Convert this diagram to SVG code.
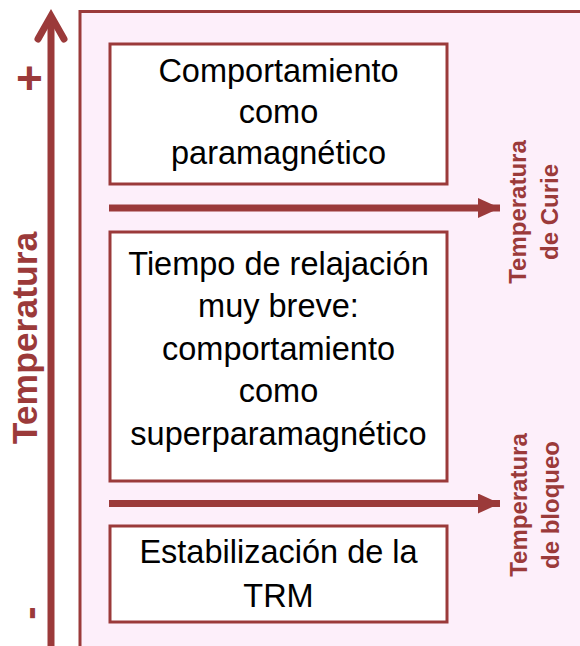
<svg xmlns="http://www.w3.org/2000/svg" width="580" height="646" viewBox="0 0 580 646">
<style>
.box{fill:#ffffff;stroke:#9b3a3a;stroke-width:3}
.bt{font-family:"Liberation Sans",Arial,sans-serif;font-size:32.5px;fill:#000;text-anchor:middle}
.lbl{font-family:"Liberation Sans",Arial,sans-serif;font-weight:bold;fill:#9b3a3a;text-anchor:middle}
.conn{stroke:#9b3a3a;stroke-width:7;fill:none}
</style>
<defs>
<marker id="ah" markerUnits="userSpaceOnUse" markerWidth="24" markerHeight="24" refX="22" refY="10" orient="auto" viewBox="0 0 24 24">
<path d="M0,0 L22,10 L0,20 Z" fill="#9b3a3a"/>
</marker>
</defs>
<rect width="580" height="646" fill="#ffffff"/>
<g id="frame">
<rect x="80" y="11.5" width="520" height="660" fill="#fdeffa" stroke="#9b3a3a" stroke-width="3"/>
</g>
<g id="axis">
<line x1="51" y1="16" x2="51" y2="650" class="conn"/>
<polyline points="38,39 51,16 64,39" class="conn" stroke-linecap="round" stroke-linejoin="miter"/>
<text x="29.5" y="94" class="lbl" font-size="46">+</text>
<text transform="translate(37,338) rotate(-90)" class="lbl" font-size="35.5">Temperatura</text>
<text transform="translate(43,613) rotate(-90)" class="lbl" font-size="40">-</text>
</g>
<g id="connectors">
<line x1="109" y1="208" x2="500" y2="208" class="conn" marker-end="url(#ah)"/>
<line x1="109" y1="503.5" x2="500" y2="503.5" class="conn" marker-end="url(#ah)"/>
</g>
<g id="box1">
<rect x="110" y="44" width="337" height="140" class="box"/>
<text class="bt"><tspan x="278.5" y="82">Comportamiento</tspan><tspan x="278.5" y="123">como</tspan><tspan x="278.5" y="164">paramagnético</tspan></text>
</g>
<g id="box2">
<rect x="110" y="232" width="337" height="249" class="box"/>
<text class="bt"><tspan x="278.5" y="275">Tiempo de relajación</tspan><tspan x="278.5" y="317">muy breve:</tspan><tspan x="278.5" y="360">comportamiento</tspan><tspan x="278.5" y="402">como</tspan><tspan x="278.5" y="445">superparamagnético</tspan></text>
</g>
<g id="box3">
<rect x="110" y="526" width="337" height="96" class="box"/>
<text class="bt"><tspan x="278.5" y="563">Estabilización de la</tspan><tspan x="278.5" y="607">TRM</tspan></text>
</g>
<g id="curie">
<text transform="translate(526,212) rotate(-90)" class="lbl" font-size="24">Temperatura</text>
<text transform="translate(558,212) rotate(-90)" class="lbl" font-size="24">de Curie</text>
</g>
<g id="bloqueo">
<text transform="translate(527,505) rotate(-90)" class="lbl" font-size="24">Temperatura</text>
<text transform="translate(559,505) rotate(-90)" class="lbl" font-size="24">de bloqueo</text>
</g>
</svg>
